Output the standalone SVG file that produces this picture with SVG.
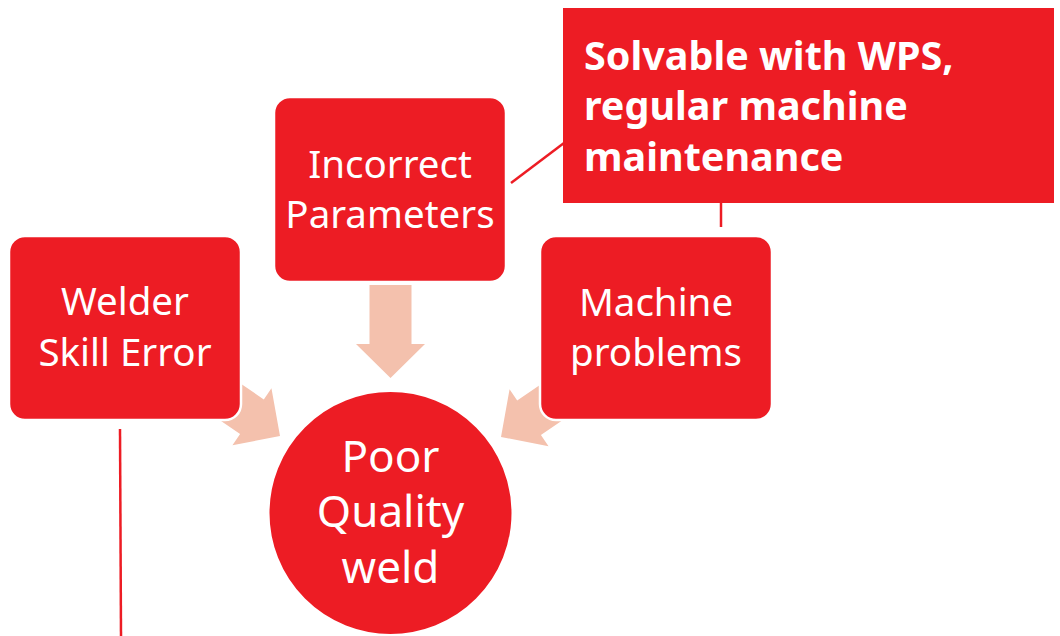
<svg xmlns="http://www.w3.org/2000/svg" width="1060" height="636" viewBox="0 0 1060 636">
<defs>
<style>
.box{fill:#ED1C24;stroke:#FFFFFF;stroke-width:2.5}
.arrow{fill:#F4C1AD}
.t{font-family:"Noto Sans","Open Sans",sans-serif;fill:#FFFFFF;text-anchor:middle;font-size:38.5px}
.tc{font-family:"Noto Sans","Open Sans",sans-serif;fill:#FFFFFF;text-anchor:middle;font-size:44px}
.tb{font-family:"Noto Sans","Open Sans",sans-serif;fill:#FFFFFF;font-size:39.5px;font-weight:bold}
.ln{stroke:#ED1C24;stroke-width:2.5;fill:none}
</style>
<polygon id="arr" points="0,0 -34,-34.5 -34,-21 -93,-21 -93,21 -34,21 -34,34.5"/>
</defs>
<rect width="1060" height="636" fill="#FFFFFF"/>
<g id="connectors">
<use href="#arr" class="arrow" transform="translate(280,436) rotate(34.4)"/>
<use href="#arr" class="arrow" transform="translate(501,437) rotate(145.6)"/>
<use href="#arr" class="arrow" transform="translate(390.5,378) rotate(90)"/>
<line class="ln" x1="511" y1="183" x2="564" y2="143"/>
<line class="ln" x1="721" y1="203" x2="721" y2="227"/>
<line class="ln" x1="120" y1="429" x2="121" y2="636"/>
</g>
<g id="welder">
<rect class="box" x="9" y="236" width="232" height="184" rx="16"/>
<text class="t" x="125" y="315">Welder</text>
<text class="t" x="125" y="366">Skill Error</text>
</g>
<g id="incorrect">
<rect class="box" x="274" y="97" width="232" height="185" rx="16"/>
<text class="t" x="390" y="178">Incorrect</text>
<text class="t" x="390" y="228">Parameters</text>
</g>
<g id="machine">
<rect class="box" x="540" y="236" width="232" height="184" rx="16"/>
<text class="t" x="656" y="316">Machine</text>
<text class="t" x="656" y="366">problems</text>
</g>
<g id="poor">
<circle cx="390.5" cy="513" r="122" fill="#ED1C24" stroke="#FFFFFF" stroke-width="2"/>
<text class="tc" x="390.5" y="472">Poor</text>
<text class="tc" x="390.5" y="527">Quality</text>
<text class="tc" x="390.5" y="583">weld</text>
</g>
<g id="callout">
<rect x="563" y="8" width="491" height="195" fill="#ED1C24"/>
<text class="tb" x="584" y="70">Solvable with WPS,</text>
<text class="tb" x="584" y="120">regular machine</text>
<text class="tb" x="584" y="171">maintenance</text>
</g>
</svg>
